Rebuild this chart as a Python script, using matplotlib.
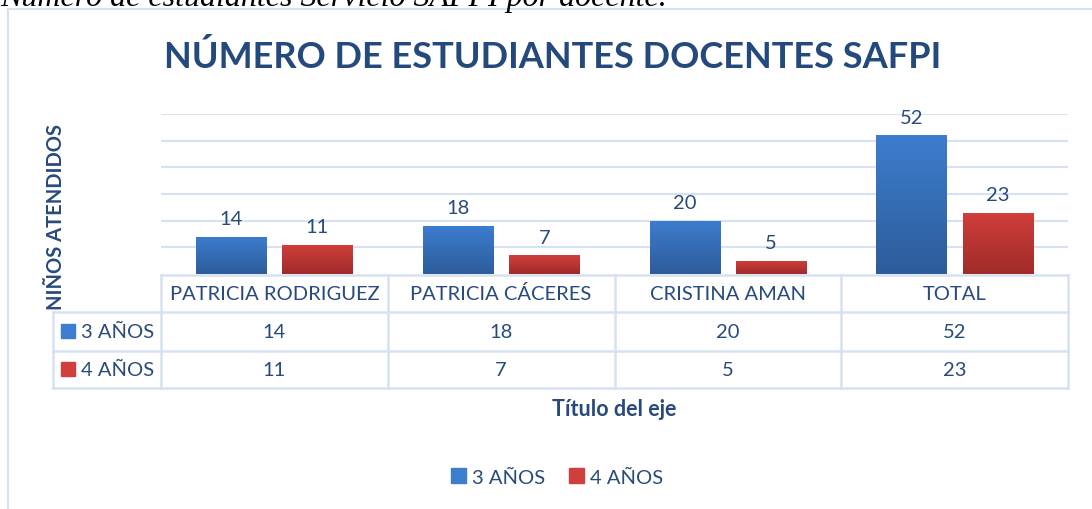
import numpy as np
import matplotlib
matplotlib.use("Agg")
import matplotlib.pyplot as plt
from matplotlib.colors import LinearSegmentedColormap

# datos
docentes = ["PATRICIA RODRIGUEZ", "PATRICIA CÁCERES", "CRISTINA AMAN", "TOTAL"]
series = ["3 AÑOS", "4 AÑOS"]
tres_anos = [14, 18, 20, 52]
cuatro_anos = [11, 7, 5, 23]

W, H = 1092, 510
plt.rcParams['font.family'] = ['Lato', 'DejaVu Sans']

txt_color = "#284A7C"
grid_color = "#D6E1F1"
azul = ("#3D7DCE", "#2D5C9B")
rojo = ("#D03F3B", "#A02B29")

fig = plt.figure(figsize=(W / 100, H / 100), dpi=100)

def px(x0, y0, x1, y1):
    # caja en pixeles (desde arriba) -> coords de figura
    return [x0 / W, 1 - y1 / H, (x1 - x0) / W, (y1 - y0) / H]

# leyenda de pie de figura (cortada arriba)
fig.text(0 / W, 1 - 6 / H, "Número de estudiantes Servicio SAFPI por docente.",
         family="Liberation Serif", style="italic", fontsize=23, color="black",
         ha="left", va="baseline")

# borde del grafico
fig.add_artist(plt.Line2D([8 / W, 8 / W], [0, 1 - 10 / H], transform=fig.transFigure,
                          color=grid_color, lw=1.5))
fig.add_artist(plt.Line2D([8 / W, 1], [1 - 10 / H, 1 - 10 / H], transform=fig.transFigure,
                          color=grid_color, lw=1.5))

ax = fig.add_axes(px(161, 115, 1068, 275))
x = np.arange(len(docentes))
w = 0.31
off = 0.19
ax.set_yticks(np.arange(10, 61, 10))
ax.yaxis.grid(True, color=grid_color, lw=1.5)
ax.set_axisbelow(True)
ax.tick_params(left=False, bottom=False, labelleft=False, labelbottom=False)
for s in ax.spines.values():
    s.set_visible(False)

def gradient_bars(xs, vals, cols):
    cmap = LinearSegmentedColormap.from_list("g", [cols[1], cols[0]])
    bars = ax.bar(xs, vals, w, color="none", edgecolor="none", zorder=3)
    grad = np.linspace(0, 1, 256).reshape(-1, 1)
    for b in bars:
        im = ax.imshow(grad, cmap=cmap, aspect="auto", origin="lower",
                       extent=[b.get_x(), b.get_x() + b.get_width(), 0, b.get_height()],
                       zorder=3)
        im.set_clip_path(b)
    for xi, v in zip(xs, vals):
        ax.annotate(str(v), (xi, v), xytext=(0, 7), textcoords="offset points",
                    ha="center", va="bottom", fontsize=14.5, color=txt_color)
    return bars

gradient_bars(x - off, tres_anos, azul)
gradient_bars(x + off, cuatro_anos, rojo)
ax.set_xlim(-0.5, len(docentes) - 0.5)
ax.set_ylim(0, 60)

# titulo
fig.text(553 / W, 1 - 57 / H, "NÚMERO DE ESTUDIANTES DOCENTES SAFPI",
         fontsize=26, fontweight="bold", color="#24497C", ha="center", va="center")

# titulo eje y
fig.text(56 / W, 1 - 217 / H, "NIÑOS ATENDIDOS", rotation=90, fontsize=14.5,
         fontweight="bold", color=txt_color, ha="center", va="center")

# tabla de datos
tab = fig.add_axes(px(161, 276, 1068, 390))
tab.set_xlim(-0.5, len(docentes) - 0.5)
tab.set_ylim(3, 0)
tab.axis("off")
left = -0.5 - (161 - 53) / 227
rows_y = [0, 313 - 276, 351.5 - 276, 389 - 276]
rows_y = [r / (390 - 276) * 3 for r in rows_y]
lkw = dict(color=grid_color, lw=1.8, clip_on=False)
tab.plot([-0.5, 3.5], [rows_y[0]] * 2, **lkw)
for r in rows_y[1:]:
    tab.plot([left, 3.5], [r, r], **lkw)
tab.plot([left, left], [rows_y[1], rows_y[3]], **lkw)
for i in range(len(docentes) + 1):
    tab.plot([i - 0.5] * 2, [rows_y[0], rows_y[3]], **lkw)

for i, d in enumerate(docentes):
    tab.text(i, (rows_y[0] + rows_y[1]) / 2, d, ha="center", va="center",
             fontsize=14.5, color=txt_color)
    tab.text(i, (rows_y[1] + rows_y[2]) / 2, str(tres_anos[i]), ha="center",
             va="center", fontsize=14.5, color=txt_color)
    tab.text(i, (rows_y[2] + rows_y[3]) / 2, str(cuatro_anos[i]), ha="center",
             va="center", fontsize=14.5, color=txt_color)

# claves de la tabla
for j, (nom, col) in enumerate(zip(series, [azul, rojo])):
    yc = 332 + 38 * j
    fig.add_artist(plt.Rectangle((61 / W, 1 - (yc + 7) / H), 14 / W, 14 / H,
                                 transform=fig.transFigure, color=col[0]))
    fig.text(81 / W, 1 - yc / H, nom, fontsize=14.5, color=txt_color,
             ha="left", va="center")

# titulo eje x
fig.text(614.5 / W, 1 - 410 / H, "Título del eje", fontsize=15.5, fontweight="bold",
         color=txt_color, ha="center", va="center")

# leyenda
handles = [plt.Rectangle((0, 0), 1, 1, color=c[0]) for c in [azul, rojo]]
fig.legend(handles, series, loc="center", bbox_to_anchor=(557 / W, 1 - 478 / H),
           ncol=2, frameon=False, fontsize=14.5, handlelength=0.75, handleheight=0.75,
           handletextpad=0.3, columnspacing=1.2, labelcolor=txt_color)

fig.savefig("out.png", dpi=100)
